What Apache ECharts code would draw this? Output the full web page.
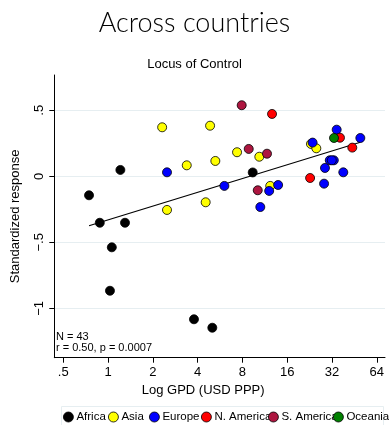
<!DOCTYPE html>
<html>
<head>
<meta charset="utf-8">
<script src="https://cdn.jsdelivr.net/npm/echarts@6/dist/echarts.min.js"></script>
<style>
  html, body { margin: 0; padding: 0; background: #ffffff; }
  #chart { width: 389px; height: 425px; }
</style>
</head>
<body>
<div id="chart"></div>
<script>
// Regions, colours and per-region observations (GDP per capita in thousand USD PPP, standardized response)
const regions = ['Africa', 'Asia', 'Europe', 'N. America', 'S. America', 'Oceania'];
const regionColors = ['#000000', '#ffff00', '#0000ff', '#ff0000', '#ad1640', '#008000'];

const africaGdp = [0.745, 0.880, 1.21, 1.30, 1.06, 1.03, 3.78, 5.02, 9.38];
const africaResp = [-0.144, -0.352, 0.048, -0.352, -0.538, -0.867, -1.083, -1.147, 0.029];

const asiaGdp = [2.31, 4.85, 3.38, 5.26, 7.36, 2.49, 4.53, 10.39, 23.1, 25.1, 12.3];
const asiaResp = [0.371, 0.383, 0.083, 0.116, 0.182, -0.255, -0.197, 0.148, 0.245, 0.212, -0.073];

const europeGdp = [2.49, 6.05, 13.9, 12.1, 10.55, 23.7, 34.4, 49.6, 30.9, 32.9, 28.7, 38.1, 28.3, 31.9];
const europeResp = [0.030, -0.073, -0.066, -0.111, -0.233, 0.255, 0.353, 0.290, 0.121, 0.121, 0.063, 0.030, -0.056, 0.121];

const nAmericaGdp = [12.65, 22.8, 36.2, 43.8];
const nAmericaResp = [0.472, -0.013, 0.292, 0.217];

const sAmericaGdp = [7.91, 8.82, 11.7, 10.14];
const sAmericaResp = [0.538, 0.207, 0.171, -0.106];

const oceaniaGdp = [33.0];
const oceaniaResp = [0.290];

// Linear fit of response on log2(GDP)
const fitIntercept = -0.330;
const fitSlope = 0.1044;

// Axis ticks
const xTickValues = [0.5, 1, 2, 4, 8, 16, 32, 64];
const xTickLabels = ['.5', '1', '2', '4', '8', '16', '32', '64'];
const yTickValues = [-1, -0.5, 0, 0.5];
const yTickLabels = ['\u22121', '\u2212.5', '0', '.5'];

const sampleText = ['N = 43', 'r = 0.50, p = 0.0007'];

const groups = [
  [africaGdp, africaResp], [asiaGdp, asiaResp], [europeGdp, europeResp],
  [nAmericaGdp, nAmericaResp], [sAmericaGdp, sAmericaResp], [oceaniaGdp, oceaniaResp]
];

const lg = v => Math.log2(v);
const FONT = '"Liberation Sans", Arial, sans-serif';

const allGdp = groups.flatMap(g => g[0]);
const fitX0 = Math.min(...allGdp), fitX1 = Math.max(...allGdp);
const fitData = [fitX0, fitX1].map(v => [lg(v), fitIntercept + fitSlope * lg(v)]);

const scatterSeries = regions.map((name, i) => ({
  name,
  type: 'scatter',
  symbol: 'circle',
  symbolSize: 9,
  z: 3,
  itemStyle: { color: regionColors[i], borderColor: '#000000', borderWidth: 0.8, opacity: 1 },
  emphasis: { disabled: true },
  data: groups[i][0].map((g, k) => [lg(g), groups[i][1][k]])
}));

// Legend entries placed individually along one row
const legendLefts = [63, 108, 149, 201, 268, 333];
const legends = regions.map((name, i) => ({
  data: [name],
  left: legendLefts[i],
  top: 411,
  padding: 0,
  itemWidth: 10,
  itemHeight: 10,
  itemGap: 0,
  icon: 'circle',
  selectedMode: false,
  textStyle: { fontFamily: FONT, fontSize: 11.5, color: '#000', padding: [0, 0, 0, -2] },
  itemStyle: { borderColor: '#000', borderWidth: 0.8 }
}));

const chart = echarts.init(document.getElementById('chart'), null, { renderer: 'canvas' });
chart.setOption({
  animation: false,
  backgroundColor: '#ffffff',
  title: [
    { text: 'Across countries', left: 'center', top: 5,
      textStyle: { fontFamily: 'Lato, sans-serif', fontWeight: 300, fontSize: 27, color: '#000' } },
    { text: 'Locus of Control', left: 'center', top: 53,
      textStyle: { fontFamily: FONT, fontWeight: 'normal', fontSize: 13, color: '#000' } }
  ],
  legend: legends,
  graphic: [
    { type: 'rect', left: 59, top: 404, shape: { width: 322, height: 26 },
      style: { fill: 'none', stroke: '#e6eef1', lineWidth: 1 }, z: 0 },
    { type: 'text', left: 56, top: 331,
      style: { text: sampleText.join('\n'), font: '11px ' + FONT, fill: '#000', lineHeight: 11.5 } }
  ],
  grid: { left: 54.3, right: 4, top: 75, bottom: 67.3, containLabel: false },
  xAxis: {
    type: 'value',
    min: -1.2,
    max: 6.183,
    name: 'Log GPD (USD PPP)',
    nameLocation: 'middle',
    nameGap: 24,
    nameTextStyle: { fontFamily: FONT, fontSize: 13, color: '#000', padding: [0, 33, 0, 0] },
    axisLine: { show: true, onZero: false, lineStyle: { color: '#000', width: 1 } },
    axisTick: { show: true, length: 5, lineStyle: { color: '#000' }, customValues: xTickValues.map(lg) },
    axisLabel: {
      fontFamily: FONT, fontSize: 13, color: '#000', margin: 8,
      customValues: xTickValues.map(lg),
      formatter: v => xTickLabels[xTickValues.findIndex(t => Math.abs(lg(t) - v) < 1e-6)] || ''
    },
    splitLine: { show: false }
  },
  yAxis: {
    type: 'value',
    min: -1.374,
    max: 0.767,
    name: 'Standardized response',
    nameLocation: 'middle',
    nameRotate: 90,
    nameGap: 32,
    nameTextStyle: { fontFamily: FONT, fontSize: 13, color: '#000' },
    axisLine: { show: true, onZero: false, lineStyle: { color: '#000', width: 1 } },
    axisTick: { show: true, length: 5, lineStyle: { color: '#000' }, customValues: yTickValues },
    axisLabel: {
      fontFamily: FONT, fontSize: 13, color: '#000', margin: 8, rotate: 90,
      customValues: yTickValues,
      formatter: v => yTickLabels[yTickValues.findIndex(t => Math.abs(t - v) < 1e-6)] || ''
    },
    splitLine: { show: true, lineStyle: { color: '#e6eef1', width: 1 } }
  },
  series: [
    {
      name: 'fit',
      type: 'line',
      data: fitData,
      symbol: 'none',
      z: 2,
      lineStyle: { color: '#000', width: 1.2 },
      emphasis: { disabled: true }
    },
    ...scatterSeries
  ]
});
</script>
</body>
</html>
